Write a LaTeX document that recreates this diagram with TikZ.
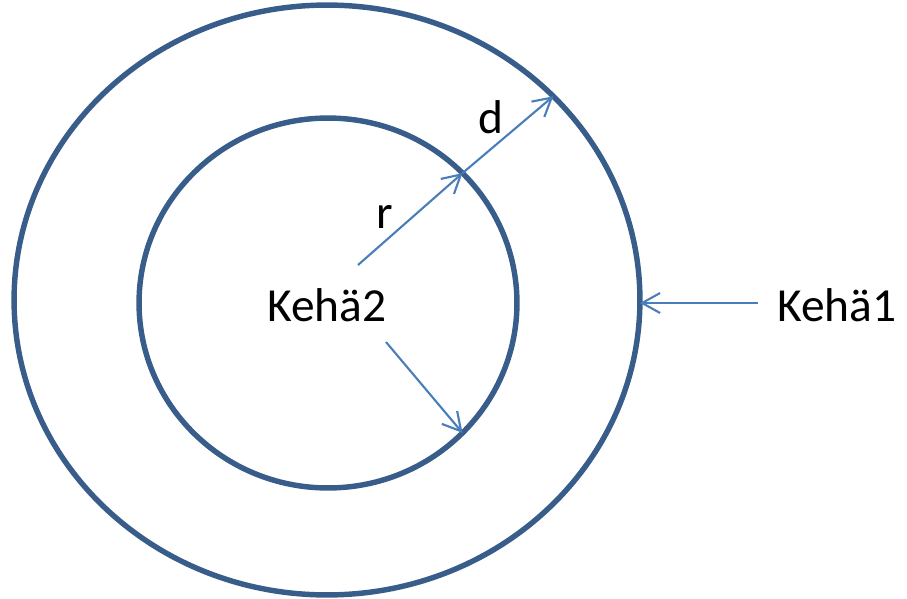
\documentclass[tikz,border=0pt]{standalone}
\usepackage{fontspec}
\setmainfont{Carlito}
\usetikzlibrary{shapes.geometric, arrows.meta, positioning, calc}
\definecolor{ringblue}{HTML}{385D8A}
\definecolor{arrowblue}{HTML}{4A7EBB}

\begin{document}
\begin{tikzpicture}[
        x=0.02cm, y=-0.02cm,
        font=\fontsize{27}{32}\selectfont,
        ring/.style = {ellipse, draw=ringblue, line width=3.1pt, inner sep=0pt, outer sep=0pt},
        pointer/.style = {draw=arrowblue, line width=1.2pt, -{Straight Barb[length=0.36cm, width=0.4cm]}},
        label_text/.style = {inner sep=0pt, anchor=base, text=black}
    ]
    \useasboundingbox (0,0) rectangle (907,599);

    % Rings
    \node [ring, minimum width=12.52cm, minimum height=11.8cm] (kehae1) at (327,300) {};
    \node [ring, minimum width=7.56cm, minimum height=7.4cm] (kehae2) at (328,303) {};

    % Labels
    \node [label_text] (lbl2) at (327,321) {Kehä2};
    \node [label_text] (lbl1) at (837,321) {Kehä1};
    \node [label_text] (lblr) at (385,228) {r};
    \node [label_text] (lbld) at (491,133) {d};

    % Arrow tails
    \coordinate (rtail) at (358,265);
    \coordinate (lowtail) at (386,342);
    \coordinate (k1tail) at (758,303);

    % Arrows
    \draw [pointer] (rtail) -- (kehae2.44);
    \draw [pointer] (kehae2.44) -- (kehae1.42);
    \draw [pointer] (lowtail) -- (kehae2.-44);
    \draw [pointer] (k1tail) -- (k1tail -| kehae1.east);

\end{tikzpicture}
\end{document}
